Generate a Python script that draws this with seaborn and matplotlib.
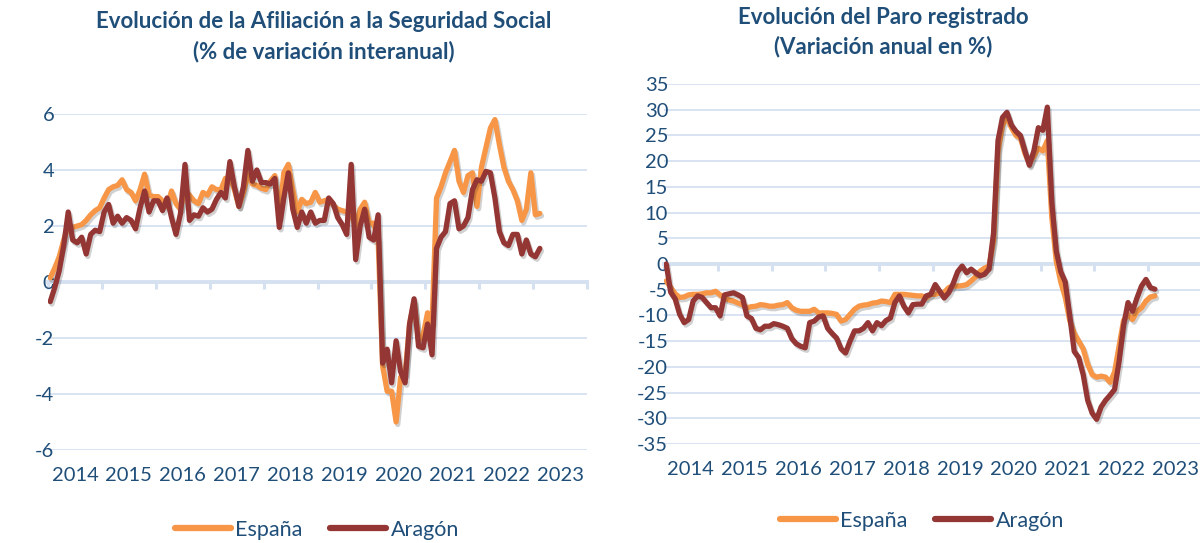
import numpy as np
import pandas as pd
import matplotlib
matplotlib.use("Agg")
import matplotlib.pyplot as plt
import matplotlib.patheffects as pe
from matplotlib.lines import Line2D
import seaborn as sns

# --- datos mensuales ene-2014 .. feb-2023 ---
afil_espana = [
    0.15, 0.5, 0.9, 1.5, 2.0, 1.95, 2.0, 2.05, 2.2, 2.4, 2.55, 2.65,
    3.0, 3.3, 3.4, 3.45, 3.65, 3.3, 3.2, 2.9, 3.3, 3.85, 3.1, 3.05,
    3.05, 2.9, 2.7, 3.25, 2.8, 2.6, 3.3, 3.1, 2.9, 2.8, 3.2, 3.1,
    3.4, 3.3, 3.3, 3.7, 3.75, 3.3, 2.7, 3.2, 3.85, 3.5, 3.45, 3.35,
    3.3, 3.6, 3.8, 2.3, 3.9, 4.2, 3.3, 2.5, 2.95, 2.8, 2.85, 3.2,
    2.85, 2.9, 2.95, 2.75, 2.6, 2.55, 2.5, 2.4, 2.0, 2.6, 2.85, 2.1,
    2.1, 1.5, -3.0, -3.9, -3.9, -5.0, -3.4, -3.3, -1.5, -0.7, -2.1, -1.9,
    -1.1, -1.5, 3.0, 3.4, 3.9, 4.3, 4.7, 3.6, 3.2, 3.8, 3.9, 2.7,
    4.1, 4.8, 5.5, 5.8, 4.9, 4.1, 3.6, 3.3, 2.9, 2.2, 2.6, 3.9,
    2.4, 2.45,
]
afil_aragon = [
    -0.7, -0.2, 0.4, 1.3, 2.5, 1.5, 1.4, 1.6, 1.0, 1.7, 1.85, 1.8,
    2.5, 2.77, 2.1, 2.35, 2.1, 2.3, 2.2, 1.9, 2.65, 3.25, 2.5, 2.9,
    2.9, 2.55, 3.0, 2.3, 1.7, 2.45, 4.2, 2.2, 2.4, 2.35, 2.65, 2.5,
    2.6, 2.95, 3.2, 3.0, 4.3, 3.4, 2.7, 3.4, 4.7, 3.6, 4.0, 3.55,
    3.55, 3.5, 3.7, 1.95, 3.0, 3.9, 2.6, 1.95, 2.5, 2.1, 2.5, 2.1,
    2.2, 2.2, 3.0, 2.8, 2.3, 2.05, 1.7, 4.2, 0.8, 2.0, 2.6, 1.6,
    1.5, 2.4, -2.9, -2.4, -3.6, -2.1, -3.2, -3.6, -1.5, -0.6, -2.3, -2.35,
    -1.5, -2.6, 1.2, 1.6, 1.8, 2.8, 2.9, 1.9, 2.0, 2.3, 3.3, 3.65,
    3.6, 3.95, 3.9, 3.0, 1.8, 1.4, 1.3, 1.7, 1.7, 1.0, 1.5, 1.0,
    0.9, 1.2,
]
paro_espana = [
    -3.3, -4.6, -5.8, -6.5, -6.4, -6.0, -5.9, -5.9, -5.8, -5.6, -5.6, -5.3,
    -6.0, -6.6, -7.0, -7.2, -7.6, -7.9, -8.5, -8.3, -8.2, -7.9, -8.0, -8.2,
    -8.2, -8.0, -7.9, -7.5, -8.5, -9.0, -9.2, -9.2, -9.2, -8.8, -9.5, -9.5,
    -9.5, -9.6, -9.8, -11.1, -10.8, -9.8, -8.8, -8.2, -8.0, -7.9, -7.6, -7.5,
    -7.2, -7.3, -7.5, -5.9, -5.9, -5.9, -6.0, -6.1, -6.2, -6.2, -6.6, -5.9,
    -5.9, -5.6, -5.5, -4.6, -4.3, -4.3, -4.2, -4.0, -3.3, -2.5, -1.4, -0.8,
    -0.4, 4.5, 22.0, 27.0, 28.5, 26.5, 25.0, 24.5, 21.5, 19.5, 21.0, 22.5,
    22.0, 24.0, 9.0, 0.5, -3.5, -6.5, -11.0, -13.5, -15.0, -16.5, -19.5, -21.5,
    -22.0, -21.8, -22.0, -23.0, -21.0, -16.0, -11.0, -9.8, -10.8, -9.2, -8.5, -7.2,
    -6.4, -6.2,
]
paro_aragon = [
    0.0, -5.5, -6.8, -9.8, -11.4, -10.8, -7.2, -6.2, -6.5, -7.5, -8.5, -8.5,
    -10.1, -6.0, -5.8, -5.6, -6.0, -6.5, -10.1, -10.6, -12.5, -12.8, -12.1, -12.1,
    -11.6, -11.8, -12.1, -12.5, -14.5, -15.5, -16.0, -16.3, -11.4, -11.1, -10.3, -10.1,
    -12.5, -13.5, -14.4, -16.5, -17.3, -15.0, -13.0, -13.0, -12.5, -11.4, -13.0, -11.4,
    -12.0, -11.0, -10.5, -7.5, -6.2, -8.2, -9.5, -7.9, -7.8, -7.8, -6.2, -5.9,
    -4.0, -5.3, -6.6, -5.6, -3.8, -1.5, -0.4, -1.7, -1.0, -1.7, -2.3, -2.0,
    -1.0, 6.0, 24.0, 28.5, 29.5, 27.0, 25.8, 25.0, 22.0, 19.2, 22.0, 26.5,
    26.0, 30.5, 12.0, 2.5, -1.5, -3.5, -10.0, -17.0, -18.2, -21.5, -26.5, -29.0,
    -30.2, -27.8, -26.5, -25.5, -24.4, -19.0, -12.0, -7.5, -9.2, -6.6, -4.3, -3.0,
    -4.6, -4.9,
]
years = [str(y) for y in range(2014, 2024)]
series_names = ["España", "Aragón"]

fechas = pd.date_range("2014-01-01", periods=len(afil_espana), freq="MS")
x_dec = fechas.year + (fechas.month - 0.5) / 12

def long_df(esp, ara):
    return pd.concat([
        pd.DataFrame({"x": x_dec, "valor": esp, "serie": "España"}),
        pd.DataFrame({"x": x_dec, "valor": ara, "serie": "Aragón"}),
    ])

df_afil = long_df(afil_espana, afil_aragon)
df_paro = long_df(paro_espana, paro_aragon)

sns.set_theme(style="white")
plt.rcParams["font.family"] = ["Lato", "DejaVu Sans"]
plt.rcParams["axes.unicode_minus"] = False

txt_color = "#1F4E79"
grid_color = "#D5E1F1"
palette = {"España": "#F79646", "Aragón": "#943634"}
sombra = [pe.SimpleLineShadow(offset=(1.2, -1.8), shadow_color="black", alpha=0.18), pe.Normal()]

fig = plt.figure(figsize=(12, 5.43), dpi=100)
W, H = 1200, 543

def px_axes(x0, x1, ytop, ybot):
    return fig.add_axes([x0 / W, 1 - ybot / H, (x1 - x0) / W, (ybot - ytop) / H])

ax1 = px_axes(48, 587, 114, 450)
ax2 = px_axes(664, 1202, 84, 444)

def estilo(ax, df, ylim, ystep, ypad):
    sns.lineplot(data=df, x="x", y="valor", hue="serie", palette=palette,
                 hue_order=series_names, ax=ax, lw=3.8, legend=False,
                 path_effects=sombra, zorder=3, sort=False)
    ax.set_xlim(2014, 2024)
    ax.set_ylim(*ylim)
    ax.set_yticks(np.arange(ylim[0], ylim[1] + 1, ystep))
    ax.grid(axis="y", color=grid_color, lw=1.3)
    ax.grid(axis="x", visible=False)
    ax.set_axisbelow(True)
    for s in ["top", "right", "left"]:
        ax.spines[s].set_visible(False)
    ax.spines["bottom"].set_position(("data", 0))
    ax.spines["bottom"].set_color(grid_color)
    ax.spines["bottom"].set_linewidth(2.8)
    ax.spines["bottom"].set_zorder(2)
    ax.set_xticks(np.arange(2014, 2025))
    ax.tick_params(axis="x", bottom=True, length=5, width=2.2, color=grid_color,
                   direction="out", labelbottom=False)
    ax.tick_params(axis="y", left=False, length=0, pad=ypad, labelsize=14.5,
                   labelcolor=txt_color)
    ax.set_xlabel("")
    ax.set_ylabel("")
    sec = ax.secondary_xaxis("bottom")
    sec.set_xticks(np.arange(2014, 2024) + 0.5, labels=years)
    sec.tick_params(bottom=False, length=0, pad=12, labelsize=14.5, labelcolor=txt_color)
    sec.spines["bottom"].set_visible(False)

estilo(ax1, df_afil, (-6, 6), 2, -4.5)
estilo(ax2, df_paro, (-35, 35), 5, -3)

def titulo(xc, y1, y2, l1, l2):
    fig.text(xc / W, 1 - y1 / H, l1, ha="center", va="center", fontsize=16,
             fontweight="bold", color=txt_color)
    fig.text(xc / W, 1 - y2 / H, l2, ha="center", va="center", fontsize=16,
             fontweight="bold", color=txt_color)

titulo(324, 22, 52, "Evolución de la Afiliación a la Seguridad Social",
       "(% de variación interanual)")
titulo(883, 17, 47, "Evolución del Paro registrado", "(Variación anual en %)")

handles = [Line2D([], [], color=palette[n], lw=4.5, solid_capstyle="round") for n in series_names]
for xc, yc in [(317, 530), (922, 521)]:
    fig.legend(handles, series_names, loc="center", bbox_to_anchor=(xc / W, 1 - yc / H),
               ncol=2, frameon=False, fontsize=15.5, handlelength=2.6, handletextpad=0.2,
               columnspacing=1.3, labelcolor=txt_color, borderpad=0)

fig.savefig("out.png", dpi=100)
